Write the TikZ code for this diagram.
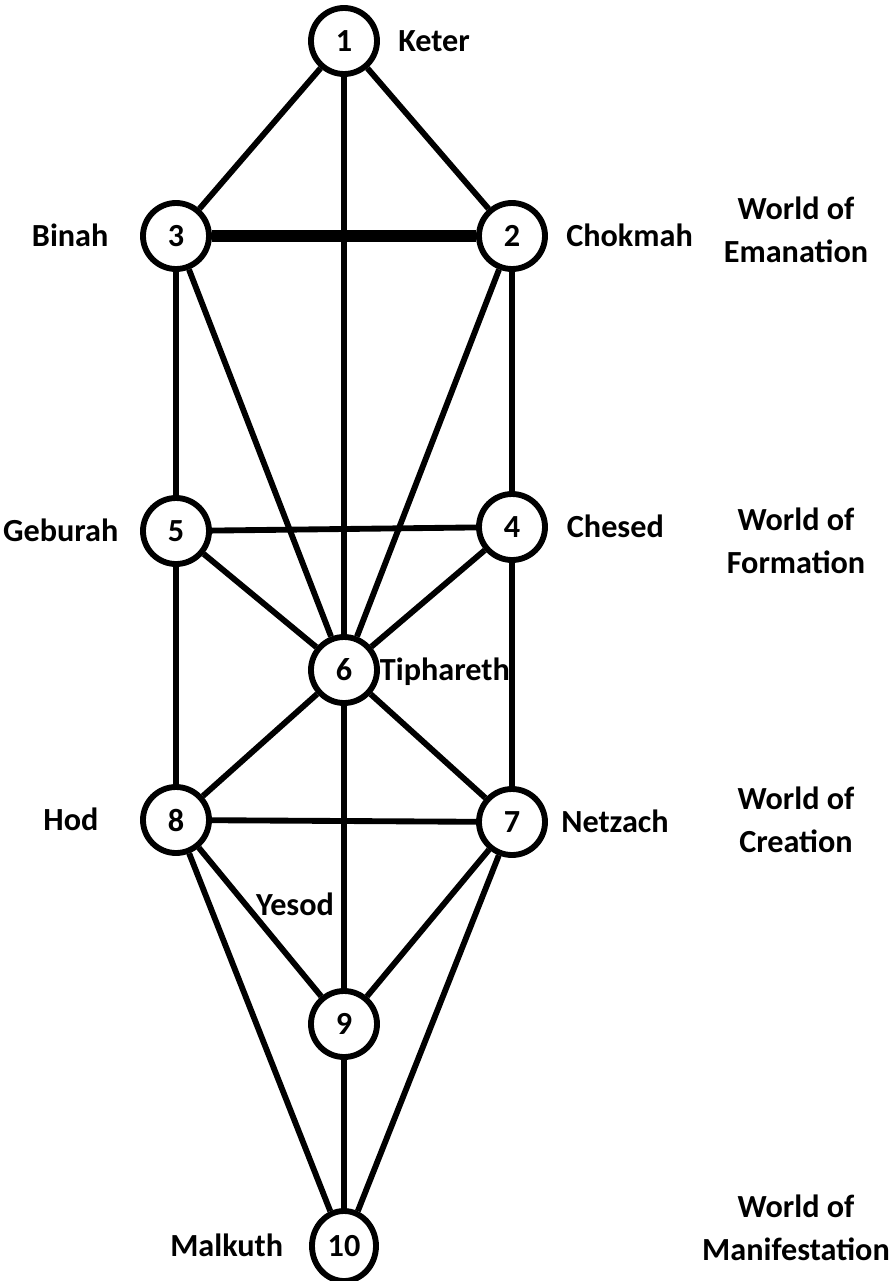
\documentclass[tikz,border=0pt]{standalone}
\usepackage{fontspec}
\setmainfont{Carlito}
\usetikzlibrary{positioning,shapes.geometric}
\newcommand\treefont{\bfseries\fontsize{27.5}{37}\selectfont}
\tikzset{
  sefira/.style={circle,draw,line width=5pt,minimum size=1.98cm,inner sep=0pt,font=\treefont},
  sefname/.style={inner sep=0pt,outer sep=0pt,text height=17.6pt,text depth=0pt,font=\treefont},
  worldname/.style={align=center,inner sep=0pt,font=\treefont},
  path/.style={line width=5pt},
  thickpath/.style={line width=9.4pt}
}

\begin{document}
\begin{tikzpicture}[x=0.03cm,y=-0.03cm]
        \useasboundingbox (0,0) rectangle (895,1281);
        \node[sefira] (n1) at (344,41) {1};
        \node[sefira] (n3) at (176,236) {3};
        \node[sefira] (n2) at (512,236) {2};
        \node[sefira] (n5) at (176,531) {5};
        \node[sefira] (n4) at (512,527) {4};
        \node[sefira] (n6) at (344,670) {6};
        \node[sefira] (n8) at (176,820) {8};
        \node[sefira] (n7) at (512,822) {7};
        \node[sefira] (n9) at (344,1024) {9};
        \node[sefira,ellipse,minimum width=1.92cm,minimum height=2.1cm] (n10) at (344,1246) {10};
        % names of the sefirot
        \node[sefname,right=0.55cm of n1] (keter) {Keter};
        \node[sefname,right=0.55cm of n2] (chokmah) {Chokmah};
        \node[sefname,left=0.95cm of n3] (binah) {Binah};
        \node[sefname,right=0.57cm of n4] (chesed) {Chesed};
        \node[sefname,left=0.65cm of n5] (geburah) {Geburah};
        \node[sefname,right=0cm of n6] (tiphareth) {Tiphareth};
        \node[sefname,right=0.4cm of n7] (netzach) {Netzach};
        \node[sefname,left=1.25cm of n8] (hod) {Hod};
        \node[sefname] (yesod) at (295,905) {Yesod};
        \node[sefname,left=0.78cm of n10] (malkuth) {Malkuth};
        % the four worlds
        \node[worldname] (emanation) at (796,230) {World of\\Emanation};
        \node[worldname] (formation) at (796,541) {World of\\Formation};
        \node[worldname] (creation) at (796,820) {World of\\Creation};
        \node[worldname] (manifestation) at (796,1228) {World of\\Manifestation};
        \path[path]
          (n1) edge (n3)
          (n1) edge (n2)
          (n1) edge (n6)
          (n3) edge[thickpath] (n2)
          (n3) edge (n5)
          (n3) edge (n6)
          (n2) edge (n4)
          (n2) edge (n6)
          (n5) edge (n4)
          (n5) edge (n6)
          (n4) edge (n6)
          (n5) edge (n8)
          (n4) edge (n7)
          (n6) edge (n8)
          (n6) edge (n7)
          (n6) edge (n9)
          (n8) edge (n7)
          (n8) edge (n9)
          (n7) edge (n9)
          (n8) edge (n10)
          (n7) edge (n10)
          (n9) edge (n10);
      \end{tikzpicture}
\end{document}
